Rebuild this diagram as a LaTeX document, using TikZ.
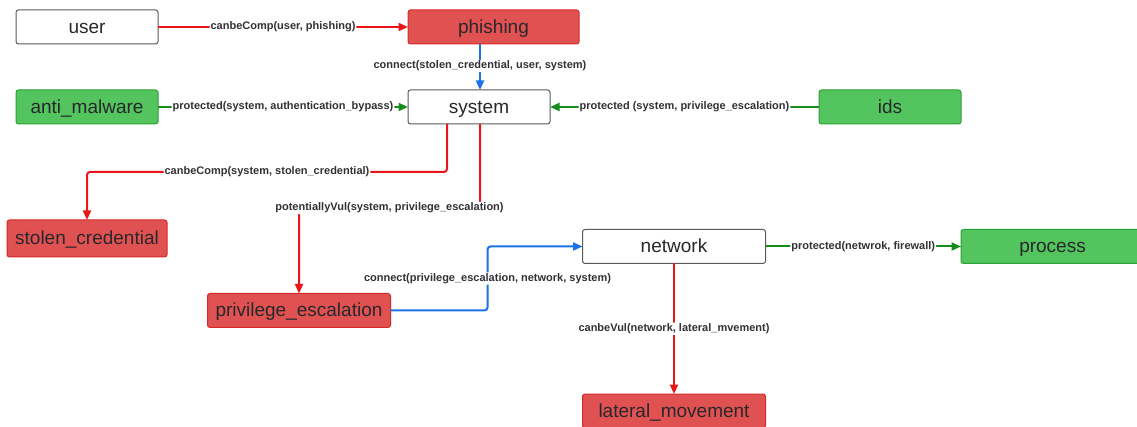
\documentclass[tikz,border=0pt]{standalone}
\usepackage{fontspec}
\setmainfont{Liberation Sans}
\usetikzlibrary{arrows.meta}
\definecolor{redfill}{RGB}{224,82,82}
\definecolor{rededge}{RGB}{214,40,40}
\definecolor{greenfill}{RGB}{84,196,94}
\definecolor{greenedge}{RGB}{44,160,54}
\definecolor{redline}{RGB}{232,22,24}
\definecolor{greenline}{RGB}{22,140,26}
\definecolor{blueline}{RGB}{26,115,232}
\definecolor{ink}{RGB}{40,40,44}
\definecolor{lblink}{RGB}{50,50,54}
\tikzset{
  box/.style={rectangle, rounded corners=2.5pt, minimum height=34pt, inner sep=0pt, outer sep=0pt,
    text height=16pt, text depth=3.5pt,
    line width=1pt, font=\fontsize{19}{22}\selectfont, text=ink},
  plainbox/.style={box, draw=black!65, fill=white},
  threat/.style={box, draw=rededge, fill=redfill},
  guard/.style={box, draw=greenedge, fill=greenfill},
  link/.style={line width=2pt, rounded corners=3pt, -{Triangle[length=9.5pt,width=8pt]}},
  redlink/.style={link, draw=redline},
  greenlink/.style={link, draw=greenline},
  bluelink/.style={link, draw=blueline},
  lbl/.style={fill=white, inner sep=1pt, text=lblink, font=\fontsize{11}{13}\selectfont\bfseries}
}
\begin{document}
\begin{tikzpicture}[x=1pt, y=-1pt]
  \useasboundingbox[fill=white] (0,0) rectangle (1137,427);

  % entities
  \node[plainbox, minimum width=142pt] (user) at (87,27) {user};
  \node[threat, minimum width=171pt] (phishing) at (493.5,27) {phishing};
  \node[guard, minimum width=142pt] (antimalware) at (87,107) {anti\_malware};
  \node[plainbox, minimum width=142pt] (system) at (479,107) {system};
  \node[guard, minimum width=142pt] (ids) at (890,107) {ids};
  \node[threat, minimum width=160pt, minimum height=37pt] (stolen) at (87,238.5) {stolen\_credential};
  \node[threat, minimum width=183pt] (privesc) at (299,310.5) {privilege\_escalation};
  \node[plainbox, minimum width=183pt] (network) at (674,246.5) {network};
  \node[guard, minimum width=183pt] (process) at (1052.5,246.5) {process};
  \node[threat, minimum width=183pt] (lateral) at (674,411) {lateral\_movement};

  % relations
  \draw[redlink] (user) -- node[lbl] {canbeComp(user, phishing)} (phishing);
  \draw[bluelink] ([xshift=1pt]system.north |- phishing.south) -- node[lbl, pos=0.48] {connect(stolen\_credential, user, system)} ([xshift=1pt]system.north);
  \draw[greenlink] (antimalware) -- node[lbl] {protected(system, authentication\_bypass)} (system);
  \draw[greenlink] (ids) -- node[lbl] {protected (system, privilege\_escalation)} (system);
  \draw[redlink] ([xshift=-32pt]system.south) -- ++(0,48) -| node[lbl, pos=0.25] {canbeComp(system, stolen\_credential)} (stolen.north);
  \draw[redlink] ([xshift=1pt]system.south) -- ++(0,84) -| node[lbl, pos=0.25] {potentiallyVul(system, privilege\_escalation)} (privesc.north);
  \coordinate (bend) at ([xshift=-95pt]network.west);
  \draw[bluelink] (privesc.east) -| node[lbl, pos=0.75] {connect(privilege\_escalation, network, system)} (bend) -- (network.west);
  \draw[greenlink] (network) -- node[lbl] {protected(netwrok, firewall)} (process);
  \draw[redlink] (network) -- node[lbl] {canbeVul(network, lateral\_mvement)} (lateral);
\end{tikzpicture}
\end{document}
